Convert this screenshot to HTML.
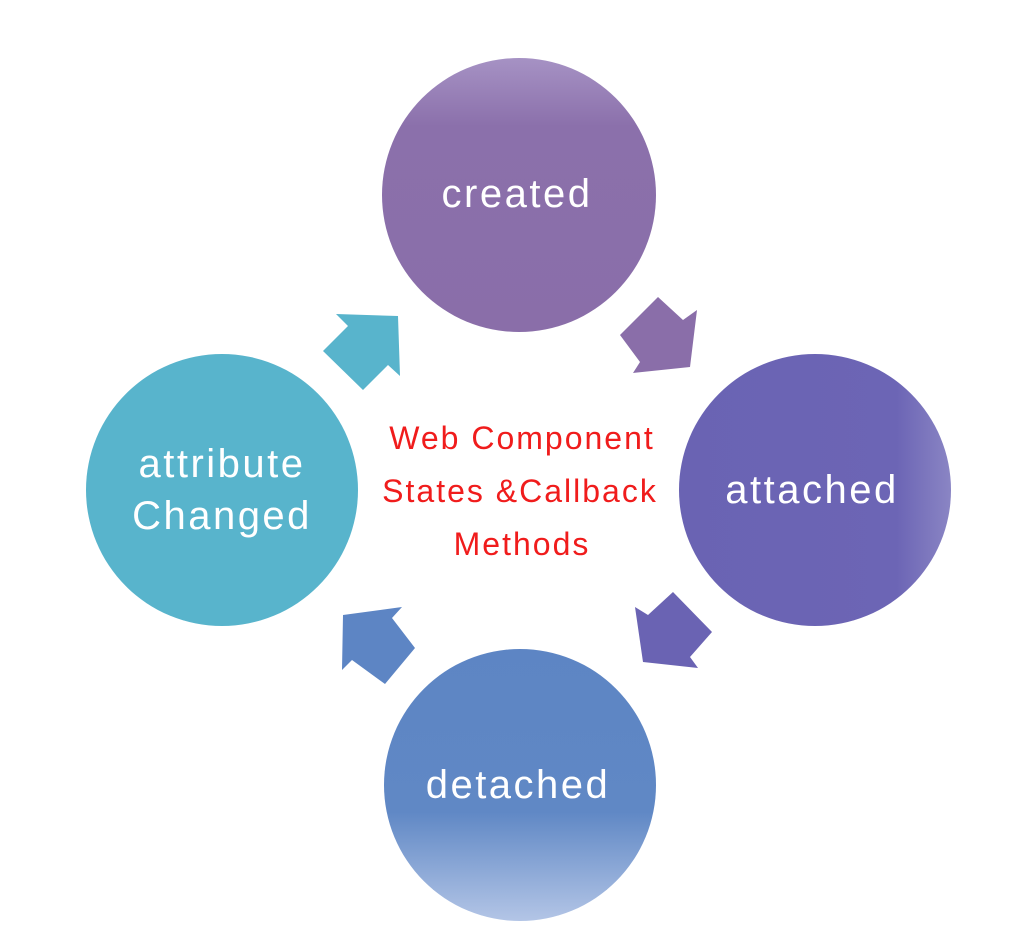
<!DOCTYPE html>
<html><head><style>
body{margin:0;background:#fff;}
svg{display:block}
text{font-family:"Liberation Sans",sans-serif;}
</style></head><body>
<svg width="1020" height="949" viewBox="0 0 1020 949">
<defs>
<linearGradient id="gc" x1="0" y1="0" x2="0" y2="1">
<stop offset="0" stop-color="#a692c4"/><stop offset="0.25" stop-color="#8b70ab"/><stop offset="1" stop-color="#8a6ea9"/></linearGradient>
<linearGradient id="ga" x1="0" y1="0" x2="1" y2="0">
<stop offset="0" stop-color="#6a63b3"/><stop offset="0.8" stop-color="#6c65b5"/><stop offset="1" stop-color="#8a85c4"/></linearGradient>
<linearGradient id="gd" x1="0" y1="0" x2="0" y2="1">
<stop offset="0" stop-color="#5d85c4"/><stop offset="0.6" stop-color="#6088c5"/><stop offset="1" stop-color="#b3c5e6"/></linearGradient>
</defs>
<circle cx="519" cy="195" r="137" fill="url(#gc)"/>
<circle cx="815" cy="490" r="136" fill="url(#ga)"/>
<circle cx="520" cy="785" r="136" fill="url(#gd)"/>
<circle cx="222" cy="490" r="136" fill="#58b4cc"/>
<polygon points="398,316 336,314 348,326 323,351 363,390 388,365 400,376" fill="#58b4cc"/>
<polygon points="690,367 697,310 683,320 658,297 620,335 640,362 633,373" fill="#8a6ea9"/>
<polygon points="643,662 635,607 648,615 673,592 712,632 690,657 698,668" fill="#6a63b3"/>
<polygon points="343,615 402,607 392,618 415,648 385,684 352,660 342,670" fill="#5d85c4"/>
<g fill="#fff" font-size="40" letter-spacing="2.5" text-anchor="middle">
<text x="517" y="207">created</text>
<text x="812" y="503">attached</text>
<text x="518" y="798">detached</text>
<text x="222" y="477">attribute</text>
<text x="222" y="529">Changed</text>
</g>
<g fill="#f01c1c" font-size="32" letter-spacing="2" text-anchor="middle">
<text x="522" y="449">Web Component</text>
<text x="520" y="502">States &amp;Callback</text>
<text x="522" y="555">Methods</text>
</g>
</svg>
</body></html>
